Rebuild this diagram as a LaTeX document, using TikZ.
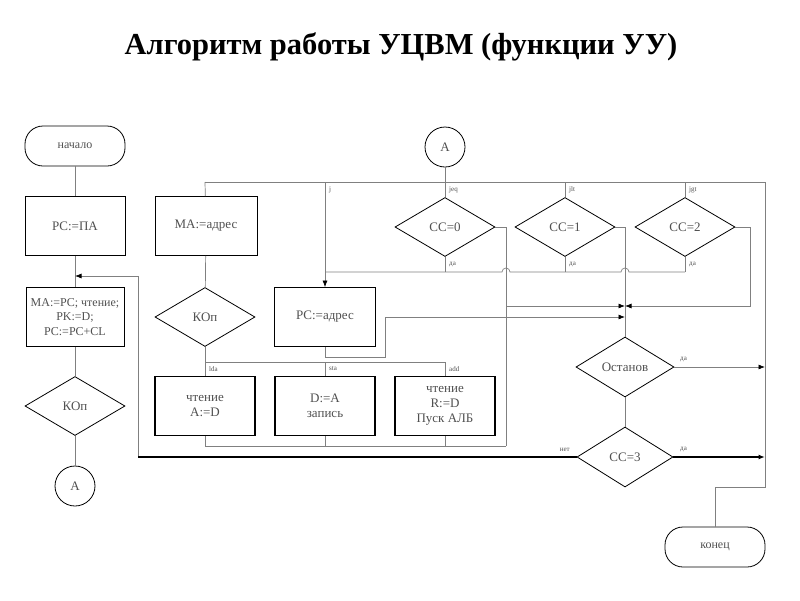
\documentclass[tikz,border=0pt]{standalone}
\usepackage{fontspec}
\setmainfont{Liberation Serif}
\usetikzlibrary{shapes.geometric,arrows.meta}
\definecolor{lin}{HTML}{808080}
\definecolor{txt}{HTML}{505050}
\tikzset{
  base/.style={draw=black,line width=0.8pt,text=txt,font=\fontsize{13}{15}\selectfont,align=center,inner sep=1pt},
  box/.style={base,rectangle,minimum width=100pt,minimum height=59pt},
  tbox/.style={box,line width=1.3pt},
  dia/.style={base,diamond,aspect=1.67,minimum width=100pt,minimum height=59pt},
  term/.style={base,rectangle,rounded corners=18pt,minimum width=100pt,minimum height=40pt,font=\fontsize{12}{14}\selectfont},
  conn/.style={base,circle,minimum size=40pt},
  ln/.style={draw=lin,line width=0.7pt},
  hl/.style={draw=black,line width=1.4pt},
  arr/.style={-{Latex[length=6.5pt,width=5pt,color=black,fill=black]}},
  lab/.style={font=\fontsize{7}{8}\selectfont,text=txt,inner sep=0pt},
}
\begin{document}
\begin{tikzpicture}[x=1pt,y=-1pt]
\useasboundingbox (0,0) rectangle (800,600);
\node[font=\bfseries\fontsize{30.5}{34}\selectfont] (title) at (401,47) {Алгоритм работы УЦВМ (функции УУ)};
% left column
\node[term] (start) at (75,146) {начало};
\node[box] (pcpa) at (75,226) {PC:=ПА};
\node[box,minimum width=98pt,font=\fontsize{12}{14.5}\selectfont] (main) at (75,317) {MA:=PC; чтение;\\PK:=D;\\PC:=PC+CL};
\node[dia] (kop1) at (75,406) {КОп};
\node[conn] (a1) at (75,486) {А};
% middle
\node[conn] (a2) at (445,147) {А};
\node[box,minimum width=102pt] (maaddr) at (206,226) {MA:=адрес};
\node[dia] (kop2) at (205,317) {КОп};
\node[box,minimum width=101pt] (pcaddr) at (325,317) {PC:=адрес};
\node[tbox] (lda) at (205,406) {чтение\\A:=D};
\node[tbox] (sta) at (325,406) {D:=A\\запись};
\node[tbox] (add) at (445,406) {чтение\\R:=D\\Пуск АЛБ};
\node[dia] (cc0) at (445,227) {CC=0};
\node[dia] (cc1) at (565,227) {CC=1};
\node[dia] (cc2) at (685,227) {CC=2};
\node[dia,minimum width=98pt,minimum height=60pt] (ost) at (625,367) {Останов};
\node[dia,minimum width=96pt,minimum height=60pt] (cc3) at (625,457) {CC=3};
\node[term] (fin) at (715,547) {конец};
% coordinates
\coordinate (jn) at (75,276);
\coordinate (lp1) at (138,457);
\coordinate (lp2) at (138,276);
\coordinate (tL) at (205,182);
\coordinate (tJ) at (325,182);
\coordinate (tA) at (445,182);
\coordinate (t1) at (565,182);
\coordinate (t2) at (685,182);
\coordinate (tR) at (765,182);
\coordinate (rB) at (765,487);
\coordinate (rE) at (715,487);
\coordinate (rO) at (765,367);
\coordinate (r3) at (765,457);
\coordinate (kb) at (205,362);
\coordinate (kS) at (325,362);
\coordinate (kA) at (445,362);
\coordinate (bL) at (205,446);
\coordinate (bS) at (325,446);
\coordinate (bA) at (445,446);
\coordinate (bR) at (506,446);
\coordinate (m1) at (506,306);
\coordinate (m2) at (625,306);
\coordinate (c0r) at (506,227);
\coordinate (c1r) at (625,227);
\coordinate (c2r) at (750,227);
\coordinate (c2d) at (750,306);
\coordinate (p1) at (325,357);
\coordinate (p2) at (385,357);
\coordinate (p3) at (385,317);
\coordinate (p4) at (625,317);
\coordinate (dJ) at (325,272);
\coordinate (d0) at (445,272);
\coordinate (d1) at (565,272);
\coordinate (d2) at (685,272);
% left column connectors
\draw[ln] (start) -- (pcpa);
\draw[ln] (pcpa) -- (main);
\draw[ln] (main) -- (kop1);
\draw[ln] (kop1) -- (a1);
\draw[ln,arr] (lp1) -- (lp2) -- (jn);
\draw[hl] (cc3.west) -- (lp1);
\node[lab,anchor=south east] (lnet) at (570,452) {нет};
% top bus
\draw[ln] (a2) -- (tA);
\draw[ln] (tL) -- (tR) -- (rB) -- (rE) -- (fin);
\draw[ln] (tL) -- (maaddr);
\draw[ln,arr] (tJ) -- (pcaddr.north);
\draw[ln] (tA) -- (cc0);
\draw[ln] (t1) -- (cc1);
\draw[ln] (t2) -- (cc2);
\node[lab,anchor=west] (lj) at (329,190) {j};
\node[lab,anchor=west] (ljeq) at (449,190) {jeq};
\node[lab,anchor=west] (ljlt) at (569,190) {jlt};
\node[lab,anchor=west] (ljgt) at (689,190) {jgt};
% KOp branches
\draw[ln] (maaddr) -- (kop2);
\draw[ln] (kop2) -- (kb) -- (kA) -- (add);
\draw[ln] (kb) -- (lda);
\draw[ln] (kS) -- (sta);
\node[lab,anchor=west] (llda) at (209,369) {lda};
\node[lab,anchor=west] (lsta) at (329,369) {sta};
\node[lab,anchor=west] (ladd) at (449,369) {add};
\draw[ln] (lda) -- (bL) -- (bR);
\draw[ln] (sta) -- (bS);
\draw[ln] (add) -- (bA);
\draw[ln] (bR) -- (m1);
% CC branches
\draw[ln] (cc0.east) -- (c0r) -- (m1);
\draw[ln,arr] (m1) -- (m2);
\draw[ln] (cc1.east) -- (c1r) -- (ost.north);
\draw[ln,arr] (cc2.east) -- (c2r) -- (c2d) -- (m2);
\draw[ln] (pcaddr.south) -- (p1) -- (p2) -- (p3);
\draw[ln,arr] (p3) -- (p4);
% da bus with hops
\draw[ln] (cc0) -- (d0);
\draw[ln] (cc1) -- (d1);
\draw[ln] (cc2) -- (d2);
\draw[ln] (dJ) -- (502,272) arc (180:360:4) -- (621,272) arc (180:360:4) -- (d2);
\node[lab,anchor=west] (lda0) at (449,265) {да};
\node[lab,anchor=west] (lda1) at (569,265) {да};
\node[lab,anchor=west] (lda2) at (689,265) {да};
% stop / cc3
\draw[ln] (ost) -- (cc3);
\draw[ln,arr] (ost.east) -- (rO);
\draw[hl,arr] (cc3.east) -- (r3);
\node[lab,anchor=south west] (ldaO) at (680,362) {да};
\node[lab,anchor=south west] (lda3) at (680,452) {да};
\end{tikzpicture}
\end{document}
